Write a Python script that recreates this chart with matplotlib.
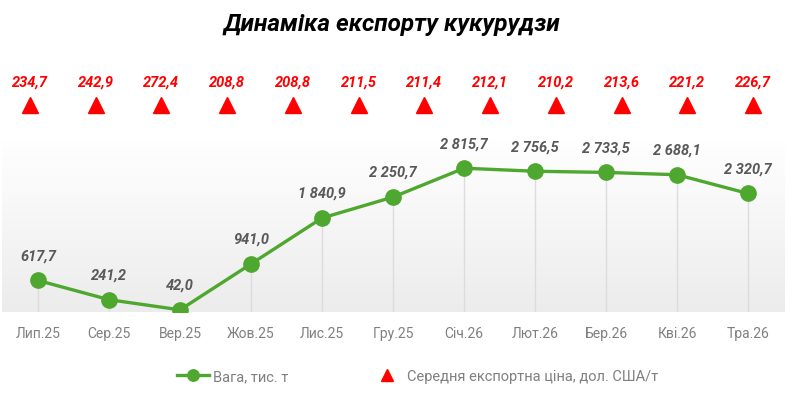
import matplotlib
matplotlib.use("Agg")
import matplotlib.pyplot as plt
import matplotlib.transforms as mtransforms
from matplotlib.colors import LinearSegmentedColormap
import numpy as np

months = ["Лип.25", "Сер.25", "Вер.25", "Жов.25", "Лис.25", "Гру.25",
          "Січ.26", "Лют.26", "Бер.26", "Кві.26", "Тра.26"]
weight = [617.7, 241.2, 42.0, 941.0, 1840.9, 2250.7,
          2815.7, 2756.5, 2733.5, 2688.1, 2320.7]
price = [234.7, 242.9, 272.4, 208.8, 208.8, 211.5,
         211.4, 212.1, 210.2, 213.6, 221.2, 226.7]


def fmt(v):
    s = f"{v:,.1f}"
    return s.replace(",", " ").replace(".", ",")


plt.rcParams['font.family'] = ['Roboto', 'DejaVu Sans']

W, H = 797, 402
fig = plt.figure(figsize=(W / 100, H / 100), dpi=100)

left_px, right_px, top_px, bot_px = 2, 785, 140, 313
ax = fig.add_axes([left_px / W, 1 - bot_px / H, (right_px - left_px) / W, (bot_px - top_px) / H])

x = np.arange(len(months))
xmin, xmax = -0.507, 10.52
ymax = 3388

# gradient background (white at top, light gray at bottom)
grad = np.linspace(0, 1, 256).reshape(-1, 1)
cmap = LinearSegmentedColormap.from_list("g", ["#ffffff", "#ececec"])
ax.imshow(grad, aspect="auto", cmap=cmap, extent=[xmin, xmax, 0, ymax],
          zorder=0, origin="upper")
ax.set_xlim(xmin, xmax)
ax.set_ylim(0, ymax)

# drop lines
ax.vlines(x, 0, weight, color="#dcdcdc", lw=1, zorder=1)

green = "#4ea72e"
line, = ax.plot(x, weight, color=green, lw=2.4, marker="o", markersize=11, zorder=3,
                label="Вага, тис. т")

for xi, v in zip(x, weight):
    ax.annotate(fmt(v), (xi, v), xytext=(0, 13), textcoords="offset points",
                ha="center", va="bottom", fontsize=10.5, fontweight="bold",
                fontstyle="italic", color="#595959")

ax.set_xticks(x)
ax.set_xticklabels(months, fontsize=10, color="#808080")
ax.tick_params(axis="x", length=0, pad=10)
ax.set_yticks([])
for s in ax.spines.values():
    s.set_visible(False)

# price series: own evenly spaced positions across the plot width
ax2 = ax.twiny()
px = np.arange(len(price))
ax2.set_xlim(-0.426, 11.487)
ax2.axis("off")
trans = mtransforms.blended_transform_factory(ax2.transData, ax2.transAxes)
tri_y = (bot_px - 106) / (bot_px - top_px)
lab_y = (bot_px - 83) / (bot_px - top_px)
tri, = ax2.plot(px, [tri_y] * len(px), transform=trans, linestyle="none", marker="^",
                markersize=11, color="#ff0000", clip_on=False, zorder=4,
                label="Середня експортна ціна, дол. США/т")
for xi, pv in zip(px, price):
    ax2.text(xi, lab_y, fmt(pv), transform=trans, ha="center", va="center",
             fontsize=10.5, fontweight="bold", fontstyle="italic", color="#ff0000",
             clip_on=False)

fig.text(0.492, 1 - 25 / H, "Динаміка експорту кукурудзи", ha="center", va="center",
         fontsize=17.5, fontweight="bold", fontstyle="italic", color="#000000")

leg = fig.legend(handles=[line, tri], loc="center", bbox_to_anchor=(0.524, 1 - 377 / H),
                 ncol=2, frameon=False, fontsize=10.5, labelcolor="#808080",
                 columnspacing=5.6, handlelength=2.2, handletextpad=0.3, markerscale=0.75)

fig.savefig("out.png", dpi=100, facecolor="white")
